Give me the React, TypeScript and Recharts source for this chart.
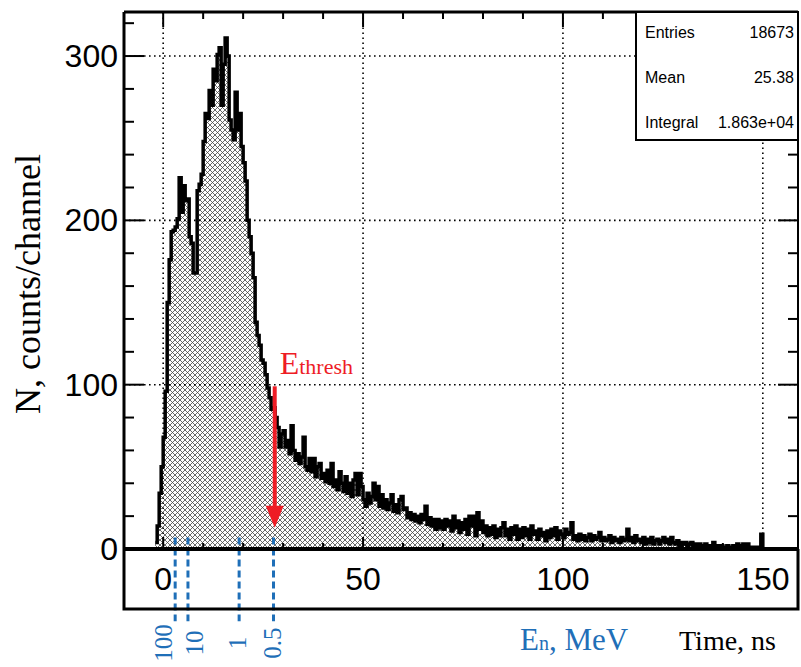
import React from "react";
import { ComposedChart, Area, XAxis, YAxis, ReferenceLine } from "recharts";

// histogram binning (time of flight, ns)
const BIN_START = -2;
const BIN_WIDTH = 0.5;

// counts per 0.5 ns channel (rows of 5 ns)
const counts = [
  4, 14, 34, 50, 68, 96, 150, 176, 193, 194, // -2 .. 2.5
  196, 201, 226, 205, 221, 212, 213, 190, 186, 168, // 3 .. 7.5
  168, 218, 222, 228, 248, 265, 262, 279, 270, 292, // 8 .. 12.5
  285, 301, 305, 270, 295, 311, 300, 261, 255, 249, // 13 .. 17.5
  278, 255, 265, 245, 235, 224, 200, 190, 180, 165, // 18 .. 22.5
  138, 130, 124, 115, 113, 106, 98, 92, 85, 86, // 23 .. 27.5
  80, 74, 62, 70, 72, 62, 66, 58, 75, 60, // 28 .. 32.5
  54, 58, 52, 56, 68, 50, 48, 55, 47, 55, // 33 .. 37.5
  44, 50, 52, 43, 46, 41, 48, 40, 52, 38, // 38 .. 42.5
  42, 36, 47, 40, 35, 44, 34, 40, 32, 42, // 43 .. 47.5
  46, 33, 46, 38, 30, 26, 34, 28, 32, 40, // 48 .. 52.5
  30, 38, 26, 33, 25, 30, 24, 28, 33, 23, // 53 .. 57.5
  27, 22, 30, 32, 24, 25, 19, 22, 18, 21, // 58 .. 62.5
  17, 20, 16, 21, 18, 26, 15, 19, 14, 18, // 63 .. 67.5
  12, 18, 13, 17, 12, 18, 14, 17, 11, 20, // 68 .. 72.5
  13, 17, 10, 16, 12, 18, 9, 20, 14, 20, // 73 .. 77.5
  8, 22, 12, 17, 10, 14, 8, 13, 9, 14, // 78 .. 82.5
  7, 12, 8, 13, 16, 8, 12, 6, 13, 9, // 83 .. 87.5
  14, 6, 12, 7, 13, 8, 12, 6, 14, 9, // 88 .. 92.5
  11, 6, 12, 8, 10, 5, 11, 7, 12, 8, // 93 .. 97.5
  13, 6, 11, 9, 7, 12, 9, 10, 16, 6, // 98 .. 102.5
  8, 5, 9, 6, 8, 5, 7, 9, 5, 8, // 103 .. 107.5
  6, 7, 10, 5, 7, 5, 6, 8, 4, 7, // 108 .. 112.5
  5, 6, 4, 7, 5, 6, 12, 5, 7, 4, // 113 .. 117.5
  8, 5, 6, 4, 7, 3, 6, 4, 7, 3, // 118 .. 122.5
  5, 6, 3, 5, 7, 4, 6, 3, 7, 4, // 123 .. 127.5
  3, 5, 2, 4, 3, 4, 2, 3, 4, 2, // 128 .. 132.5
  3, 2, 3, 1, 2, 3, 2, 1, 2, 4, // 133 .. 137.5
  1, 2, 1, 2, 1, 1, 2, 1, 1, 2, // 138 .. 142.5
  1, 3, 1, 2, 3, 2, 3, 1, 0, 1, // 143 .. 147.5
  0, 1, 0, 9, // 148 .. 149.5
];

const xTicks = [0, 10, 20, 30, 40, 50, 60, 70, 80, 90, 100, 110, 120, 130, 140, 150];
const yTicks = [0, 20, 40, 60, 80, 100, 120, 140, 160, 180, 200, 220, 240, 260, 280, 300, 320];
const xGrid = [0, 50, 100, 150];
const yGrid = [100, 200, 300];

const statNames = ["Entries", "Mean", "Integral"];
const statValues = ["18673", "25.38", "1.863e+04"];

// neutron energy marks (MeV) placed at their time of flight
const energyLabels = ["100", "10", "1", "0.5"];
const energyTimes = [3.0, 6.2, 19.0, 27.6];
const threshTime = 27.9;

// layout
const W = 801;
const H = 667;
const X_DOMAIN: [number, number] = [-9.8, 158.8];
const Y_DOMAIN: [number, number] = [0, 326.8];
const ARROW_TOP = 99;
const ARROW_TIP = 13;
const DASH_TOP = 7;
const DASH_BOTTOM = -44;
const labelShift = [-12, 7, -2, -1];
const SANS = "'Liberation Sans', Arial, Helvetica, sans-serif";
const SERIF = "'Liberation Serif', 'Times New Roman', serif";
const BLUE = "#1f6fb8";
const RED = "#ee1c25";

const hist = counts.map((n, i) => ({ t: BIN_START + i * BIN_WIDTH, n }));
hist.push({ t: BIN_START + counts.length * BIN_WIDTH, n: 0 });

// eslint-disable-next-line @typescript-eslint/no-explicit-any
function LeftTick({ x, y, payload }: any) {
  const major = payload.value % 100 === 0;
  return (
    <g>
      <line x1={x} y1={y} x2={x + (major ? 20 : 10)} y2={y} stroke="#000" strokeWidth={2} />
      {major && (
        <text x={x - 6} y={y} textAnchor="end" dominantBaseline="central" fontSize={32} fontFamily={SANS} fill="#000">
          {payload.value}
        </text>
      )}
    </g>
  );
}

// eslint-disable-next-line @typescript-eslint/no-explicit-any
function RightTick({ x, y, payload }: any) {
  const major = payload.value % 100 === 0;
  return <line x1={x} y1={y} x2={x - (major ? 20 : 10)} y2={y} stroke="#000" strokeWidth={2} />;
}

// eslint-disable-next-line @typescript-eslint/no-explicit-any
function TopTick({ x, y, payload }: any) {
  const major = payload.value % 50 === 0;
  return <line x1={x} y1={y} x2={x} y2={y + (major ? 15 : 7)} stroke="#000" strokeWidth={2} />;
}

// eslint-disable-next-line @typescript-eslint/no-explicit-any
function BottomTick({ x, y, payload }: any) {
  const major = payload.value % 50 === 0;
  return (
    <g>
      <line x1={x} y1={y} x2={x} y2={y - (major ? 12 : 6)} stroke="#000" strokeWidth={2} />
      {major && (
        <text x={x} y={y + 30} textAnchor="middle" dominantBaseline="central" fontSize={32} fontFamily={SANS} fill="#000">
          {payload.value}
        </text>
      )}
    </g>
  );
}

// eslint-disable-next-line @typescript-eslint/no-explicit-any
function ThreshArrow({ x1, y1, x2, y2 }: any) {
  return (
    <g>
      <line x1={x1} y1={y1} x2={x2} y2={y2 - 16} stroke={RED} strokeWidth={4} />
      <polygon points={`${x2 - 9},${y2 - 22} ${x2 + 9},${y2 - 22} ${x2},${y2}`} fill={RED} />
      <text x={x1 + 5} y={y1 - 12} fill={RED} fontFamily={SERIF}>
        <tspan fontSize={32}>E</tspan>
        <tspan fontSize={22}>thresh</tspan>
      </text>
    </g>
  );
}

function energyMark(label: string, shift: number) {
  // eslint-disable-next-line @typescript-eslint/no-explicit-any
  return ({ x1, y1, x2, y2 }: any) => {
    const lx = x1 + shift;
    const ly = 643;
    return (
      <g>
        <line x1={x1} y1={y1} x2={x2} y2={y2} stroke={BLUE} strokeWidth={3} strokeDasharray="7 4" />
        <text x={lx} y={ly} transform={`rotate(-90 ${lx} ${ly})`} textAnchor="middle" dominantBaseline="central"
          fontSize={25} fontFamily={SERIF} fill={BLUE}>
          {label}
        </text>
      </g>
    );
  };
}

export default function App() {
  return (
    <div style={{ position: "absolute", left: 0, top: 0, width: W, height: H, background: "#fff" }}>
      <ComposedChart width={W} height={H} data={hist} margin={{ top: 11, right: 2, bottom: 58, left: 0 }}>
        <defs>
          <pattern id="hatch" patternUnits="userSpaceOnUse" width={5} height={5}>
            <path d="M-1,-1 L6,6 M6,-1 L-1,6" stroke="#444" strokeWidth={0.8} />
          </pattern>
        </defs>
        <XAxis xAxisId="bottom" dataKey="t" type="number" domain={X_DOMAIN} allowDataOverflow ticks={xTicks}
          interval={0} height={60} tickSize={0} tickMargin={0} tickLine={false}
          axisLine={{ stroke: "#000", strokeWidth: 4 }} tick={(p: any) => <BottomTick {...p} />} />
        <XAxis xAxisId="top" orientation="top" dataKey="t" type="number" domain={X_DOMAIN} allowDataOverflow
          ticks={xTicks} interval={0} height={1} tickSize={0} tickMargin={0} tickLine={false}
          axisLine={{ stroke: "#000", strokeWidth: 3 }} tick={(p: any) => <TopTick {...p} />} />
        <YAxis yAxisId="left" type="number" domain={Y_DOMAIN} allowDataOverflow ticks={yTicks} interval={0}
          width={124} tickSize={0} tickMargin={0} tickLine={false}
          axisLine={{ stroke: "#000", strokeWidth: 3 }} tick={(p: any) => <LeftTick {...p} />} />
        <YAxis yAxisId="right" orientation="right" type="number" domain={Y_DOMAIN} allowDataOverflow ticks={yTicks}
          interval={0} width={1} tickSize={0} tickMargin={0} tickLine={false}
          axisLine={{ stroke: "#000", strokeWidth: 2 }} tick={(p: any) => <RightTick {...p} />} />

        {xGrid.map((v) => (
          <ReferenceLine key={`gx${v}`} xAxisId="bottom" yAxisId="left" x={v} stroke="#000" strokeWidth={1.6}
            strokeDasharray="1.6 3.4" />
        ))}
        {yGrid.map((v) => (
          <ReferenceLine key={`gy${v}`} xAxisId="bottom" yAxisId="left" y={v} stroke="#000" strokeWidth={1.6}
            strokeDasharray="1.6 3.4" />
        ))}

        <Area xAxisId="bottom" yAxisId="left" type="stepAfter" dataKey="n" baseValue={0}
          stroke="#000" strokeWidth={3.5} fill="url(#hatch)" fillOpacity={1}
          dot={false} activeDot={false} isAnimationActive={false} />

        {energyTimes.map((t, i) => (
          <ReferenceLine key={`e${i}`} xAxisId="bottom" yAxisId="left" ifOverflow="visible"
            segment={[{ x: t, y: DASH_TOP }, { x: t, y: DASH_BOTTOM }]}
            shape={energyMark(energyLabels[i], labelShift[i])} />
        ))}
        <ReferenceLine xAxisId="bottom" yAxisId="left" ifOverflow="visible"
          segment={[{ x: threshTime, y: ARROW_TOP }, { x: threshTime, y: ARROW_TIP }]}
          shape={(p: any) => <ThreshArrow {...p} />} />
      </ComposedChart>

      <svg width={W} height={H} style={{ position: "absolute", left: 0, top: 0, pointerEvents: "none" }}>
        <path d="M124,549 V609 H798 V549" fill="none" stroke="#000" strokeWidth={3} />
        <rect x={636} y={12} width={162} height={128} fill="#fff" stroke="#000" strokeWidth={2} />
        {statNames.map((name, i) => (
          <g key={name} fontFamily={SANS} fontSize={16} fill="#000">
            <text x={645} y={32 + i * 45} dominantBaseline="central">{name}</text>
            <text x={794} y={32 + i * 45} textAnchor="end" dominantBaseline="central">{statValues[i]}</text>
          </g>
        ))}
        <text transform="translate(28,284) rotate(-90)" textAnchor="middle" dominantBaseline="central"
          fontFamily={SERIF} fontSize={36} fill="#000">
          N, counts/channel
        </text>
        <text x={776} y={650} textAnchor="end" fontFamily={SERIF} fontSize={28} fill="#000">Time, ns</text>
        <text x={520} y={650} fontFamily={SERIF} fill={BLUE}>
          <tspan fontSize={31}>E</tspan>
          <tspan fontSize={20}>n</tspan>
          <tspan fontSize={31}>, MeV</tspan>
        </text>
      </svg>
    </div>
  );
}
